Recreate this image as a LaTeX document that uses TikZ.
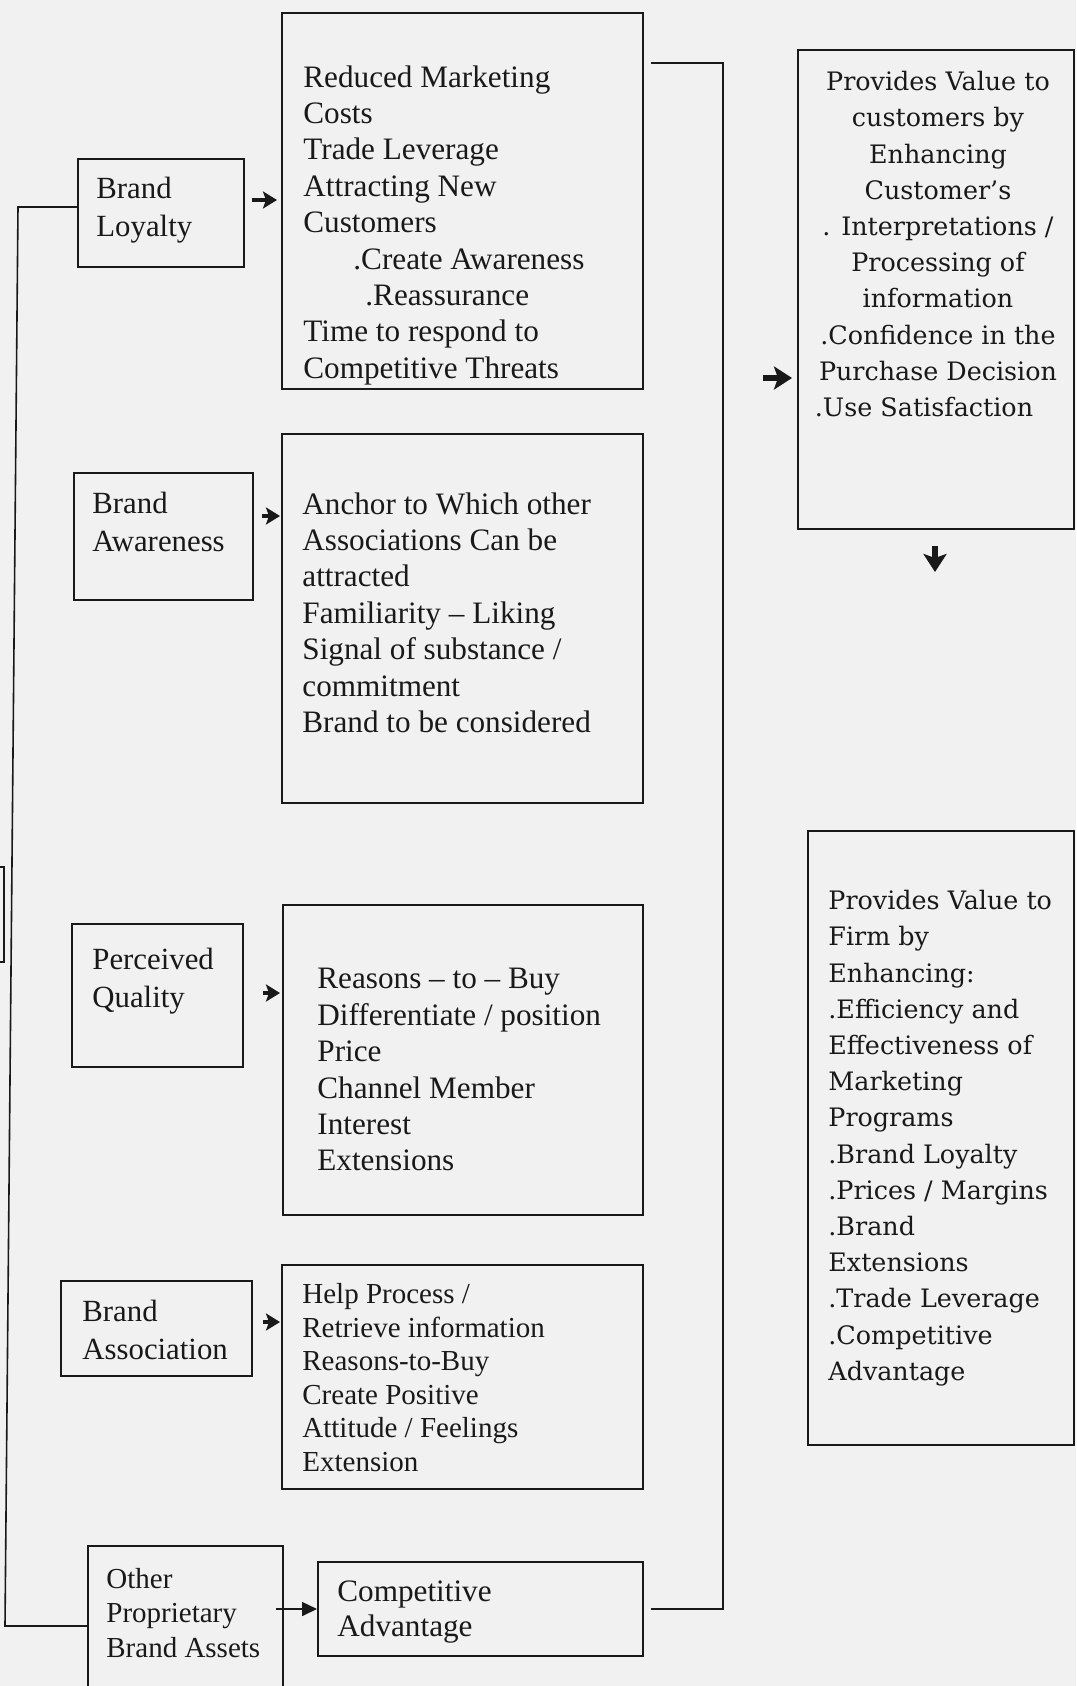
\documentclass[tikz,border=0pt]{standalone}
\usepackage{fontspec}
\setmainfont{Liberation Serif}
\newfontfamily\rfont{DejaVu Serif}
\usetikzlibrary{arrows.meta,fit,calc}
\definecolor{paper}{RGB}{241,241,241}
\definecolor{ink}{RGB}{25,25,25}
\begin{document}
\begin{tikzpicture}[x=0.5pt,y=-0.5pt,
  box/.style={draw=ink,line width=1pt,inner sep=0pt},
  conn/.style={draw=ink,line width=0.8pt},
  txt/.style={inner sep=0pt,anchor=north west,align=left,text=ink,font=\fontsize{15.6pt}{18.2pt}\selectfont},
  ltxt/.style={txt,font=\fontsize{15.4pt}{18.8pt}\selectfont},
  stxt/.style={txt,font=\fontsize{14.5pt}{16.8pt}\selectfont},
  rtxt/.style={inner sep=0pt,text=ink,font=\rfont\fontsize{12.7pt}{18.1pt}\selectfont},
  barrow/.style={draw=ink,line width=2.4pt,-{Stealth[length=7pt,width=8.5pt,inset=1.5pt]}},
  bigarrow/.style={draw=ink,line width=2.6pt,-{Stealth[length=9pt,width=11.5pt,inset=2pt]}},
  tarrow/.style={draw=ink,line width=0.8pt,-{Triangle[length=7.5pt,width=7pt]}}
]
\useasboundingbox (0,0) rectangle (1076,1686);
\clip (0,0) rectangle (1076,1686);
\fill[paper] (0,0) rectangle (1076,1686);

% left boxes
\node[box,fit={(78,159) (244,267)}] (BL) {};
\node[ltxt] (BLt) at (96,177) {Brand\\Loyalty};
\node[box,fit={(74,473) (253,600)}] (BA) {};
\node[ltxt] (BAt) at (92,492) {Brand\\Awareness};
\node[box,fit={(72,924) (243,1067)}] (PQ) {};
\node[ltxt] (PQt) at (92,948) {Perceived\\Quality};
\node[box,fit={(61,1281) (252,1376)}] (BAs) {};
\node[ltxt] (BAst) at (82,1300) {Brand\\Association};
\node[box,fit={(88,1546) (283,1710)}] (OP) {};
\node[stxt,font=\fontsize{14.5pt}{17.2pt}\selectfont] (OPt) at (106,1568) {Other\\Proprietary\\Brand Assets};

% middle boxes
\node[box,fit={(282,13) (643,389)}] (R1) {};
\node[txt] (R1t) at (303,65) {Reduced Marketing\\Costs\\Trade Leverage\\Attracting New\\Customers\\\hspace*{25pt}.Create Awareness\\\hspace*{31pt}.Reassurance\\Time to respond to\\Competitive Threats};
\node[box,fit={(282,434) (643,803)}] (R2) {};
\node[txt] (R2t) at (302,492) {Anchor to Which other\\Associations Can be\\attracted\\Familiarity – Liking\\Signal of substance /\\commitment\\Brand to be considered};
\node[box,fit={(283,905) (643,1215)}] (R3) {};
\node[txt] (R3t) at (317,968) {Reasons – to – Buy\\Differentiate / position\\Price\\Channel Member\\Interest\\Extensions};
\node[box,fit={(282,1265) (643,1489)}] (R4) {};
\node[stxt] (R4t) at (302,1283) {Help Process /\\Retrieve information\\Reasons-to-Buy\\Create Positive\\Attitude / Feelings\\Extension};
\node[box,fit={(318,1562) (643,1656)}] (R5) {};
\node[txt,font=\fontsize{15.6pt}{17.8pt}\selectfont] (R5t) at (337,1580) {Competitive\\Advantage};

% right boxes
\node[box,fit={(798,50) (1074,529)}] (RT) {};
\node[rtxt,anchor=north,align=center] (RTt) at (938,71) {Provides Value to\\customers by\\Enhancing\\Customer’s\\. Interpretations /\\Processing of\\information\\.Confidence in the\\Purchase Decision\\.Use Satisfaction\hspace*{14pt}};
\node[box,fit={(808,831) (1074,1445)}] (RB) {};
\node[rtxt,anchor=north west,align=left] (RBt) at (828,890) {Provides Value to\\Firm by\\Enhancing:\\.Efficiency and\\Effectiveness of\\Marketing\\Programs\\.Brand Loyalty\\.Prices / Margins\\.Brand\\Extensions\\.Trade Leverage\\.Competitive\\Advantage};

% bold arrows
\coordinate (a1) at (0,200);
\coordinate (a2) at (0,516);
\coordinate (a3) at (0,993);
\coordinate (a4) at (0,1322);
\draw[barrow,shorten <=3.3pt,shorten >=2pt] (BL.east |- a1) -- (R1.west |- a1);
\draw[barrow,shorten <=4pt,shorten >=0.5pt] (BA.east |- a2) -- (R2.west |- a2);
\draw[barrow,shorten <=9.5pt,shorten >=1pt] (PQ.east |- a3) -- (R3.west |- a3);
\draw[barrow,shorten <=5pt,shorten >=0.5pt] (BAs.east |- a4) -- (R4.west |- a4);
\coordinate (ra) at (763,378);
\draw[bigarrow,shorten >=2.5pt] (ra) -- (RT.west |- ra);
\coordinate (da) at (935,572);
\draw[bigarrow,shorten <=8pt] (RT.south -| da) -- (da);

% thin arrow
\coordinate (o1) at (0,1609);
\draw[tarrow] ($(OP.east |- o1)+(-8,0)$) -- (R5.west |- o1);

% left loop
\coordinate (l1) at (18,207);
\coordinate (l2) at (5,1626);
\draw[conn] (BL.west |- l1) -- (l1) -- (l2) -- (OP.west |- l2);

% right loop
\coordinate (r1) at (723,63);
\coordinate (r2) at (723,1609);
\draw[conn] ($(R1.east |- r1)+(7,0)$) -- (r1) -- (r2) -- ($(R5.east |- r2)+(7,0)$);

% fragment at the left edge
\draw[conn] (-5,867) -- (4,867) -- (4,962) -- (-5,962);
\end{tikzpicture}
\end{document}
